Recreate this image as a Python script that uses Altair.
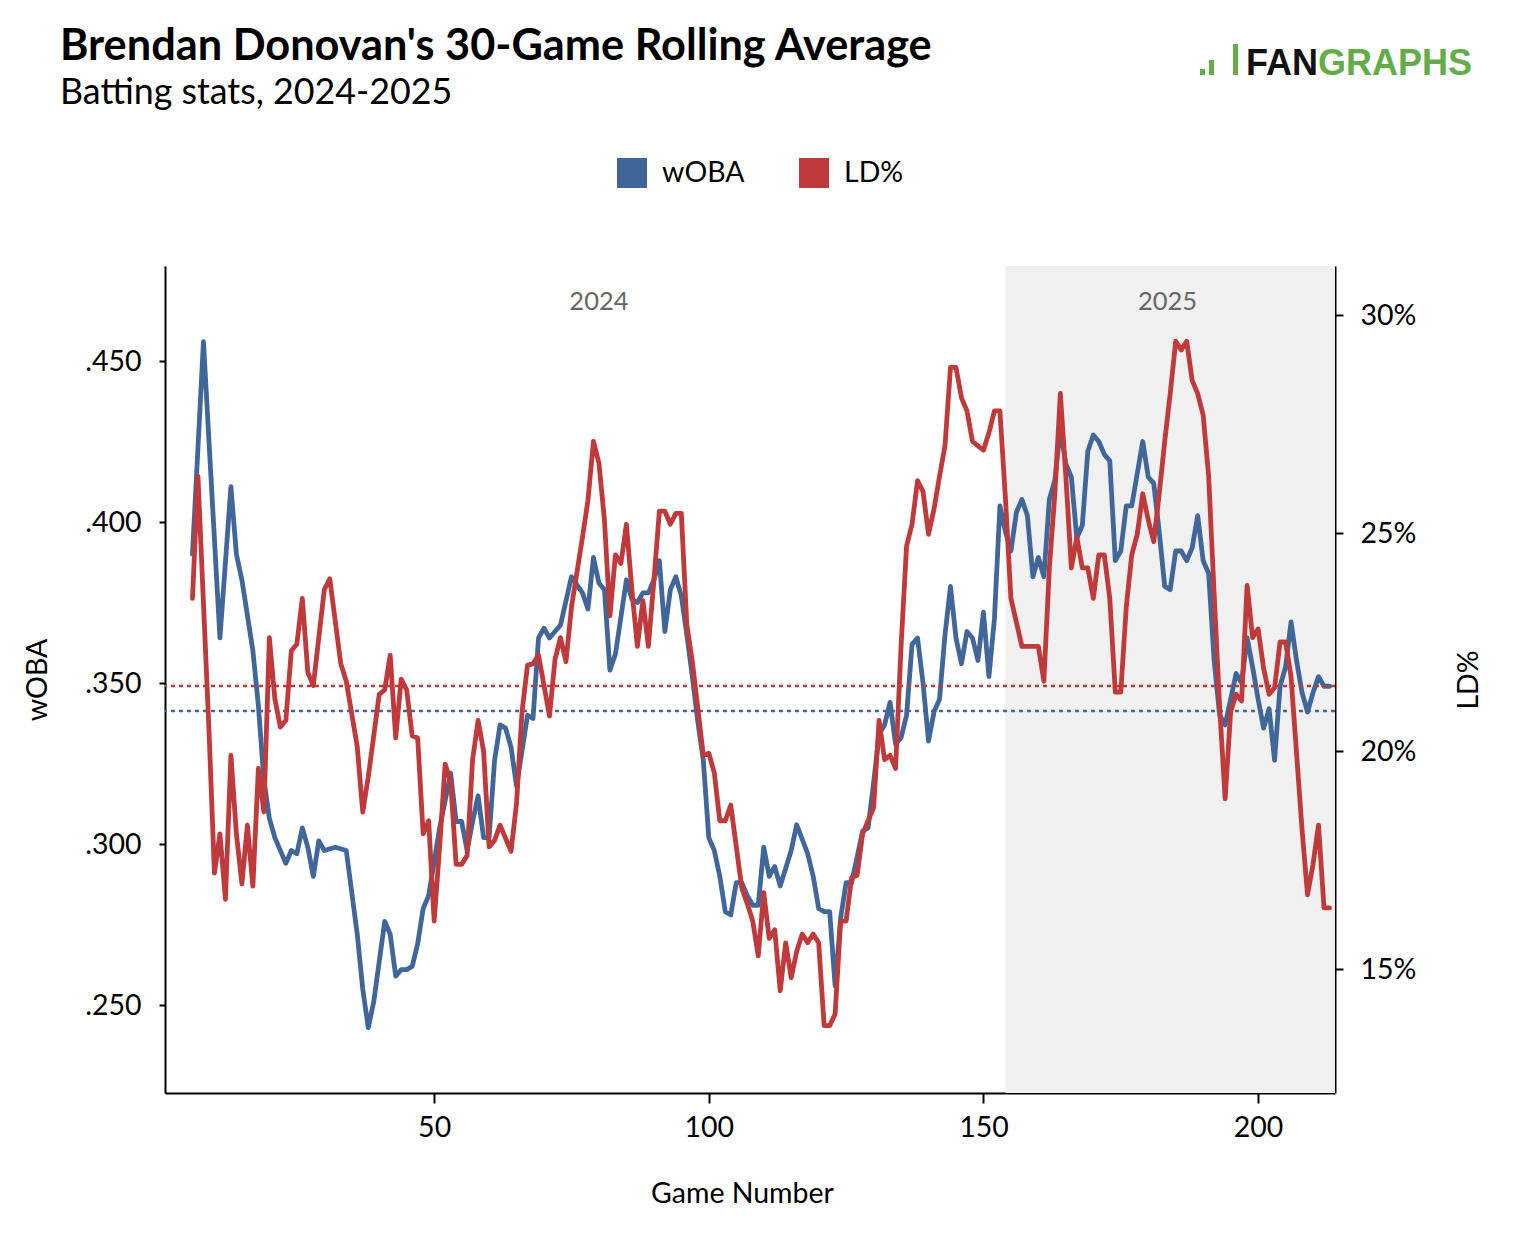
import altair as alt
import pandas as pd

# ---------------- data ----------------
woba_games = [6, 8, 11, 13, 14, 15, 17, 18, 19, 20, 21, 23, 24, 25, 26, 27, 28, 29, 30, 32,
              34, 36, 37, 38, 39, 41, 42, 43, 44, 45, 46, 47, 48, 49, 51, 53, 54, 55, 56, 57,
              58, 59, 60, 61, 62, 63, 64, 65, 66, 67, 68, 69, 70, 71, 72, 73, 75, 77, 78, 79,
              80, 81, 82, 83, 85, 86, 87, 88, 89, 90, 91, 92, 93, 94, 95, 96, 97, 98, 99, 100,
              101, 102, 103, 104, 105, 106, 107, 108, 109, 110, 111, 112, 113, 115, 116, 118, 119, 120, 121, 122,
              123, 124, 125, 126, 128, 129, 130, 131, 132, 133, 134, 135, 136, 137, 138, 139, 140, 141, 142, 143,
              144, 145, 146, 147, 148, 149, 150, 151, 152, 153, 154, 155, 156, 157, 158, 159, 160, 161, 162, 163,
              164, 165, 166, 167, 168, 169, 170, 171, 172, 173, 174, 175, 176, 177, 178, 179, 180, 181, 182, 183,
              184, 185, 186, 187, 188, 189, 190, 191, 192, 193, 194, 195, 196, 197, 198, 199, 200, 201, 202, 203,
              204, 205, 206, 207, 208, 209, 210, 211, 212, 213]
woba_values = [0.390, 0.456, 0.364, 0.411, 0.390, 0.382, 0.360, 0.343, 0.320, 0.308, 0.302, 0.294, 0.298, 0.297, 0.305, 0.299, 0.290, 0.301, 0.298, 0.299,
               0.298, 0.272, 0.255, 0.243, 0.251, 0.276, 0.272, 0.259, 0.261, 0.261, 0.262, 0.269, 0.280, 0.284, 0.305, 0.322, 0.307, 0.307, 0.298, 0.307,
               0.315, 0.302, 0.302, 0.326, 0.337, 0.336, 0.330, 0.318, 0.329, 0.340, 0.339, 0.364, 0.367, 0.364, 0.366, 0.368, 0.383, 0.378, 0.373, 0.389,
               0.381, 0.379, 0.354, 0.359, 0.382, 0.376, 0.375, 0.378, 0.378, 0.382, 0.388, 0.366, 0.379, 0.383, 0.377, 0.365, 0.352, 0.338, 0.326, 0.302,
               0.298, 0.290, 0.279, 0.278, 0.288, 0.288, 0.284, 0.281, 0.281, 0.299, 0.290, 0.293, 0.287, 0.298, 0.306, 0.297, 0.290, 0.280, 0.279, 0.279,
               0.256, 0.277, 0.288, 0.288, 0.304, 0.305, 0.319, 0.334, 0.337, 0.344, 0.331, 0.333, 0.340, 0.362, 0.364, 0.350, 0.332, 0.341, 0.345, 0.365,
               0.380, 0.364, 0.356, 0.366, 0.364, 0.357, 0.372, 0.352, 0.370, 0.405, 0.397, 0.391, 0.403, 0.407, 0.402, 0.383, 0.389, 0.383, 0.407, 0.413,
               0.429, 0.418, 0.414, 0.395, 0.399, 0.422, 0.427, 0.425, 0.421, 0.419, 0.388, 0.391, 0.405, 0.405, 0.415, 0.425, 0.414, 0.412, 0.397, 0.380,
               0.379, 0.391, 0.391, 0.388, 0.392, 0.402, 0.388, 0.384, 0.357, 0.340, 0.337, 0.345, 0.353, 0.350, 0.364, 0.355, 0.345, 0.336, 0.342, 0.326,
               0.349, 0.355, 0.369, 0.357, 0.347, 0.341, 0.347, 0.352, 0.349, 0.349]

ld_games = [6, 7, 9, 10, 11, 12, 13, 14, 15, 16, 17, 18, 19, 20, 21, 22, 23, 24, 25, 26,
            27, 28, 29, 30, 31, 33, 34, 36, 37, 38, 40, 41, 42, 43, 44, 45, 46, 47, 48, 49,
            50, 51, 52, 53, 54, 55, 56, 57, 58, 59, 60, 61, 62, 63, 64, 65, 66, 67, 68, 69,
            71, 72, 73, 74, 75, 77, 78, 79, 80, 81, 82, 83, 84, 85, 86, 87, 88, 89, 90, 91,
            92, 93, 94, 95, 96, 97, 99, 100, 101, 102, 103, 104, 106, 107, 108, 109, 110, 111, 112, 113,
            114, 115, 116, 117, 118, 119, 120, 121, 122, 123, 124, 125, 126, 127, 128, 129, 130, 131, 132, 133,
            134, 135, 136, 137, 138, 139, 140, 141, 142, 143, 144, 145, 146, 147, 148, 149, 150, 151, 152, 153,
            154, 155, 156, 157, 158, 159, 160, 161, 162, 163, 164, 165, 166, 167, 168, 169, 170, 171, 172, 173,
            174, 175, 176, 177, 178, 179, 180, 181, 182, 183, 184, 185, 186, 187, 188, 189, 190, 191, 192, 193,
            194, 195, 196, 197, 198, 199, 200, 201, 202, 203, 204, 205, 206, 207, 208, 209, 210, 211, 212, 213]
ld_values = [23.5, 26.3, 20.5, 17.2, 18.1, 16.6, 19.9, 18.1, 16.95, 18.3, 16.9, 19.6, 18.6, 22.6, 21.2, 20.55, 20.7, 22.3, 22.45, 23.5,
             21.8, 21.5, 22.6, 23.7, 23.95, 22.0, 21.6, 20.1, 18.6, 19.4, 21.3, 21.4, 22.2, 20.3, 21.65, 21.4, 20.35, 20.3, 18.1, 18.4,
             16.1, 17.8, 19.7, 19.3, 17.4, 17.4, 17.6, 19.8, 20.7, 20.0, 17.8, 17.95, 18.3, 18.0, 17.7, 18.8, 20.9, 21.97, 22.0, 22.2,
             20.8, 22.1, 22.6, 22.05, 23.3, 24.9, 25.75, 27.1, 26.6, 25.3, 23.1, 24.5, 24.3, 25.2, 23.7, 22.4, 23.45, 22.4, 23.9, 25.5,
             25.5, 25.2, 25.45, 25.45, 22.9, 22.05, 19.9, 19.95, 19.5, 18.4, 18.4, 18.76, 16.86, 16.5, 16.1, 15.3, 16.75, 15.7, 15.9, 14.5,
             15.6, 14.8, 15.4, 15.8, 15.6, 15.8, 15.6, 13.7, 13.7, 13.97, 16.1, 16.1, 17.1, 17.15, 18.1, 18.4, 18.7, 20.7, 19.8, 19.9,
             19.6, 22.4, 24.7, 25.2, 26.2, 25.95, 24.97, 25.55, 26.3, 27.0, 28.8, 28.8, 28.1, 27.8, 27.1, 27.0, 26.9, 27.3, 27.8, 27.8,
             25.8, 23.5, 22.95, 22.4, 22.4, 22.4, 22.4, 21.6, 24.2, 25.9, 28.2, 26.3, 24.2, 24.9, 24.2, 24.2, 23.5, 24.5, 24.5, 23.5,
             21.35, 21.35, 23.3, 24.5, 24.97, 25.9, 25.3, 24.8, 25.9, 27.1, 28.2, 29.4, 29.2, 29.4, 28.5, 28.2, 27.7, 26.3, 23.6, 21.0,
             18.9, 20.9, 21.3, 21.15, 23.8, 22.6, 22.8, 21.9, 21.3, 21.45, 22.5, 22.5, 21.7, 19.95, 18.2, 16.7, 17.4, 18.3, 16.4, 16.4]

series_names = ["wOBA", "LD%"]
woba_avg = [0.3413]
ld_avg = [21.49]
season_start = [154]
season_end = [214]
year_labels = ["2024", "2025"]
year_label_games = [80, 183.5]

x_domain = [1, 214]
woba_domain = [0.2227, 0.4795]
ld_domain = [12.156, 31.124]
x_ticks = [50, 100, 150, 200]
woba_ticks = [0.25, 0.30, 0.35, 0.40, 0.45]
ld_ticks = [15, 20, 25, 30]

title_text = "Brendan Donovan's 30-Game Rolling Average"
subtitle_text = "Batting stats, 2024-2025"

# ---------------- style ----------------
BLUE = "#41679a"
RED = "#c0393b"
GREEN = "#62ad47"
FONT = "Lato"
W, H = 1170, 827
FS = 28.5

df_woba = pd.DataFrame({"game": woba_games, "value": woba_values, "series": series_names[0]})
df_ld = pd.DataFrame({"game": ld_games, "value": ld_values, "series": series_names[1]})
df_shade = pd.DataFrame({"start": season_start, "end": season_end})
df_years = pd.DataFrame({"g": year_label_games, "year": year_labels})

x_scale = alt.Scale(domain=x_domain, nice=False, zero=False)
x_axis = alt.Axis(values=x_ticks, tickSize=10, labelPadding=10, titlePadding=38, titleX=577)


def X(field):
    return alt.X(field, scale=x_scale, axis=x_axis, title="Game Number")


woba_scale = alt.Scale(domain=woba_domain, nice=False, zero=False)
woba_axis = alt.Axis(values=woba_ticks, labelExpr="substring(format(datum.value, '.3f'), 1)",
                     tickSize=6, labelPadding=18, titlePadding=32, orient="left")
ld_scale = alt.Scale(domain=ld_domain, nice=False, zero=False)
ld_axis = alt.Axis(values=ld_ticks, labelExpr="format(datum.value, 'd') + '%'",
                   tickSize=8, labelPadding=17, titlePadding=68, orient="right", titleAngle=270)

color = alt.Color(
    "series:N",
    scale=alt.Scale(domain=series_names, range=[BLUE, RED]),
    legend=alt.Legend(title=None, orient="none", legendX=452, legendY=-108, direction="horizontal",
                      symbolType="square", symbolSize=196, symbolStrokeWidth=16, symbolOpacity=1,
                      labelFont=FONT, labelFontSize=FS, labelColor="black", labelOffset=15,
                      columnPadding=30),
)

shade = alt.Chart(df_shade).mark_rect(color="#f0f0f0").encode(
    x=X("start:Q"), x2="end:Q", y=alt.value(0), y2=alt.value(H)
)
years = alt.Chart(df_years).mark_text(font=FONT, fontSize=25.5, color="#666666").encode(
    x=X("g:Q"), y=alt.value(36), text="year:N"
)
blue_rule = alt.Chart(pd.DataFrame({"v": woba_avg})).mark_rule(
    color=BLUE, strokeDash=[4, 4], strokeWidth=2.5
).encode(y=alt.Y("v:Q", scale=woba_scale, axis=woba_axis, title="wOBA"))
blue_line = alt.Chart(df_woba).mark_line(strokeWidth=4.8, strokeJoin="round", strokeCap="round").encode(
    x=X("game:Q"),
    y=alt.Y("value:Q", scale=woba_scale, axis=woba_axis, title="wOBA"),
    color=color,
)


# headline texts and logo (decoration, placed in pixels)
def text_mark(txt, x, y, size, weight="normal", font=FONT, col="black"):
    return alt.Chart(pd.DataFrame({"t": [txt]})).mark_text(
        font=font, fontWeight=weight, fontSize=size, color=col, align="left", baseline="alphabetic"
    ).encode(x=alt.value(x), y=alt.value(y), text="t:N")


def logo_rect(x1, x2, y1, y2, col=GREEN):
    return alt.Chart(pd.DataFrame({"a": [0]})).mark_rect(color=col).encode(
        x=alt.value(x1), x2=alt.value(x2), y=alt.value(y1), y2=alt.value(y2))


title_mark = text_mark(title_text, -105, -206, 43.3, "bold")
subtitle_mark = text_mark(subtitle_text, -105, -162, 35.8)
logo_fan = text_mark("FAN", 1081, -191, 36, "bold", "Liberation Sans", "#111111")
logo_graphs = text_mark("GRAPHS", 1153, -191, 36, "bold", "Liberation Sans", GREEN)

left = alt.layer(shade, years, blue_rule, blue_line,
                 title_mark, subtitle_mark,
                 logo_rect(1035, 1040, -197, -191), logo_rect(1044, 1049, -206, -191),
                 logo_rect(1068, 1073, -222, -191), logo_fan, logo_graphs)

red_rule = alt.Chart(pd.DataFrame({"v": ld_avg})).mark_rule(
    color=RED, strokeDash=[4, 4], strokeWidth=2.5
).encode(y=alt.Y("v:Q", scale=ld_scale, axis=ld_axis, title="LD%"))
red_line = alt.Chart(df_ld).mark_line(strokeWidth=4.8, strokeJoin="round", strokeCap="round").encode(
    x=X("game:Q"),
    y=alt.Y("value:Q", scale=ld_scale, axis=ld_axis, title="LD%"),
    color=color,
)
right = alt.layer(red_rule, red_line)

chart = alt.layer(left, right).resolve_scale(y="independent").properties(
    width=W, height=H,
    autosize="none",
    padding={"left": 157, "top": 258, "right": 150, "bottom": 140},
).configure_view(stroke=None).configure_axis(
    grid=False, domainColor="black", domainWidth=2, tickColor="black", tickWidth=2,
    labelFont=FONT, labelFontSize=FS, labelColor="black",
    titleFont=FONT, titleFontSize=FS, titleFontWeight="normal", titleColor="black",
)

chart.save("out.html", embed_options={"renderer": "svg", "actions": False})
